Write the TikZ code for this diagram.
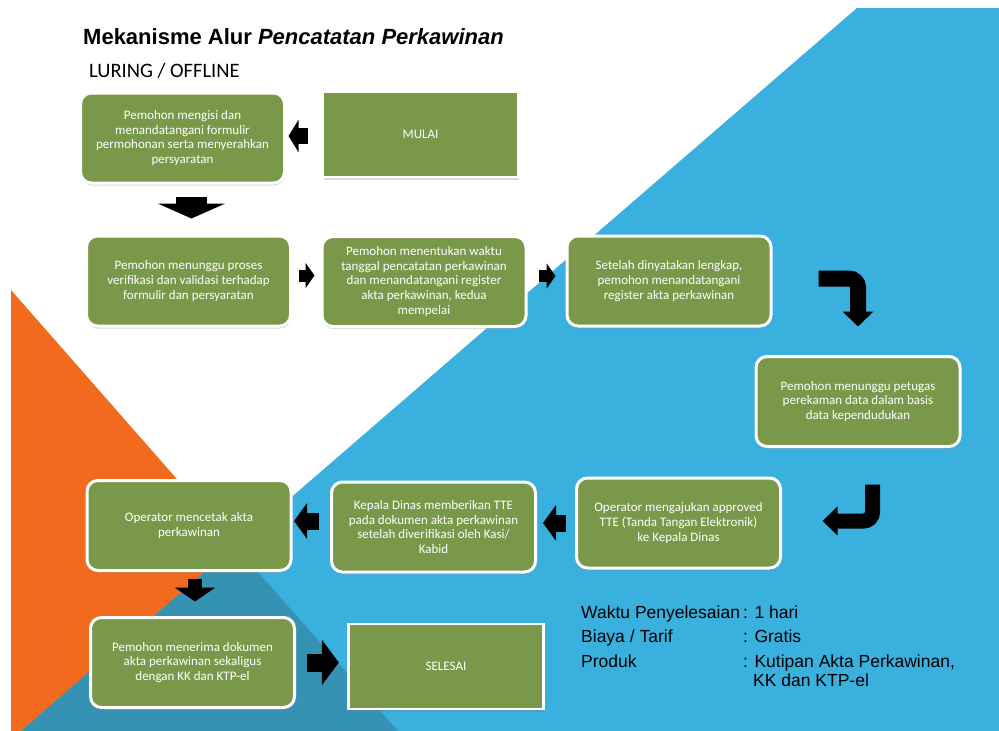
\documentclass[tikz,border=0pt]{standalone}
\usepackage{fontspec}
\setmainfont{Liberation Sans}
\newfontfamily\kotakfont{Carlito}
\usetikzlibrary{arrows.meta,shadows,calc}
\usepackage{xcolor}
\definecolor{hijau}{RGB}{122,152,74}
\definecolor{biru}{RGB}{57,176,222}
\definecolor{oranye}{RGB}{242,106,29}
\definecolor{birutua}{RGB}{54,146,178}

\begin{document}
\begin{tikzpicture}[x=1pt,y=-1pt,
        langkah/.style={draw=white, line width=3pt, fill=hijau, rounded corners=11pt,
          text=white, align=center, font=\kotakfont\fontsize{13}{14.6}\selectfont,
          minimum width=204pt, minimum height=90pt,
          drop shadow={shadow xshift=0.5pt,shadow yshift=-2.5pt,opacity=.3}},
        ujung/.style={langkah, rounded corners=0pt, line width=2.5pt,
          minimum width=195pt, minimum height=85pt},
        panah/.style n args={3}{draw=black, line width=#1, -{Triangle[length=#2,width=#3]}},
        bengkok/.style n args={3}{panah={#1}{#2}{#3}, rounded corners=9pt},
        info/.style={anchor=base west, inner sep=0pt, font=\fontsize{17.5}{21}\selectfont}]
        \useasboundingbox (0,0) rectangle (999,731);
        % latar belakang
        \fill[oranye] (11,290) -- (11,731) -- (398,731) -- cycle;
        \fill[biru] (857,8) -- (999,8) -- (999,731) -- (21,731) -- cycle;
        \fill[birutua] (235,546) -- (21,731) -- (398,731) -- cycle;
        % judul
        \node[anchor=base west, inner sep=0pt, font=\bfseries\fontsize{22}{26}\selectfont] (judul) at (83,44)
          {Mekanisme Alur \textit{Pencatatan Perkawinan}};
        \node[anchor=base west, inner sep=0pt, font=\kotakfont\fontsize{20.5}{24}\selectfont] (luring) at (89,77)
          {LURING / OFFLINE};
        % baris 1
        \node[ujung] (mulai) at (420.5,134.5) {MULAI};
        \node[langkah] (isi) at (182.5,138) {Pemohon mengisi dan\\menandatangani formulir\\permohonan serta menyerahkan\\persyaratan};
        % baris 2
        \node[langkah] (tunggu) at (188.5,281) {Pemohon menunggu proses\\verifikasi dan validasi terhadap\\formulir dan persyaratan};
        \node[langkah] (tentukan) at (424,281.5) {Pemohon menentukan waktu\\tanggal pencatatan perkawinan\\dan menandatangani register\\akta perkawinan, kedua\\mempelai};
        \node[langkah] (lengkap) at (669,281) {Setelah dinyatakan lengkap,\\pemohon menandatangani\\register akta perkawinan};
        \node[langkah] (rekam) at (858,401.5) {Pemohon menunggu petugas\\perekaman data dalam basis\\data kependudukan};
        % baris 3
        \node[langkah] (ajukan) at (678.5,523) {Operator mengajukan approved\\TTE (Tanda Tangan Elektronik)\\ke Kepala Dinas};
        \node[langkah] (tte) at (433.5,527) {Kepala Dinas memberikan TTE\\pada dokumen akta perkawinan\\setelah diverifikasi oleh Kasi/\\Kabid};
        \node[langkah] (cetak) at (189,525.5) {Operator mencetak akta\\perkawinan};
        % baris 4
        \node[langkah] (terima) at (192.5,662.5) {Pemohon menerima dokumen\\akta perkawinan sekaligus\\dengan KK dan KTP-el};
        \node[ujung] (selesai) at (446,666.5) {SELESAI};
        % panah
        \draw[panah={16pt}{10pt}{32pt}, shorten <=14pt, shorten >=2.5pt]
          ([yshift=-1.5pt]mulai.west) -- ([yshift=-1.5pt]mulai.west -| isi.east);
        \draw[panah={31pt}{15pt}{67pt}, shorten <=12pt, shorten >=16pt]
          ([xshift=9pt]isi.south) -- ([xshift=9pt]isi.south |- tunggu.north);
        \draw[panah={12pt}{9pt}{25pt}, shorten <=6.5pt, shorten >=6pt]
          ([yshift=5.5pt]tunggu.east) -- ([yshift=5.5pt]tunggu.east -| tentukan.west);
        \draw[panah={12pt}{9pt}{25pt}, shorten <=11pt, shorten >=10pt]
          ([yshift=5.5pt]tentukan.east) -- ([yshift=5.5pt]tentukan.east -| lengkap.west);
        \draw[bengkok={16pt}{15pt}{30pt}]
          ([xshift=46pt,yshift=2.5pt]lengkap.east) -| ([yshift=28.5pt]rekam.north);
        \draw[bengkok={15pt}{15pt}{28pt}]
          ([xshift=14.5pt,yshift=-36.5pt]rekam.south) |- ([xshift=40.5pt,yshift=2pt]ajukan.east);
        \draw[panah={17pt}{13pt}{35pt}, shorten <=9.5pt, shorten >=6pt]
          (ajukan.west) -- (ajukan.west -| tte.east);
        \draw[panah={17pt}{13pt}{35pt}, shorten <=11.5pt, shorten >=1.5pt]
          ([yshift=6pt]tte.west) -- ([yshift=6pt]tte.west -| cetak.east);
        \draw[panah={14pt}{14pt}{40pt}, shorten <=6.5pt, shorten >=14.5pt]
          ([xshift=6pt]cetak.south) -- ([xshift=6pt]cetak.south |- terima.north);
        \draw[panah={18pt}{17pt}{45pt}, shorten <=10.5pt, shorten >=8.5pt]
          (terima.east) -- (terima.east -| selesai.west);
        % keterangan
        \node[info] (waktu) at (581,618) {Waktu Penyelesaian};
        \node[info] (nilaiwaktu) at (743,618) {: 1 hari};
        \node[info] (biaya) at (581,642) {Biaya / Tarif};
        \node[info] (nilaibiaya) at (743,642) {: Gratis};
        \node[info] (produk) at (581,667) {Produk};
        \node[info] (nilaiproduk) at (743,667) {: Kutipan Akta Perkawinan,};
        \node[info] (nilaiproduk2) at (753,686) {KK dan KTP-el};
\end{tikzpicture}
\end{document}
